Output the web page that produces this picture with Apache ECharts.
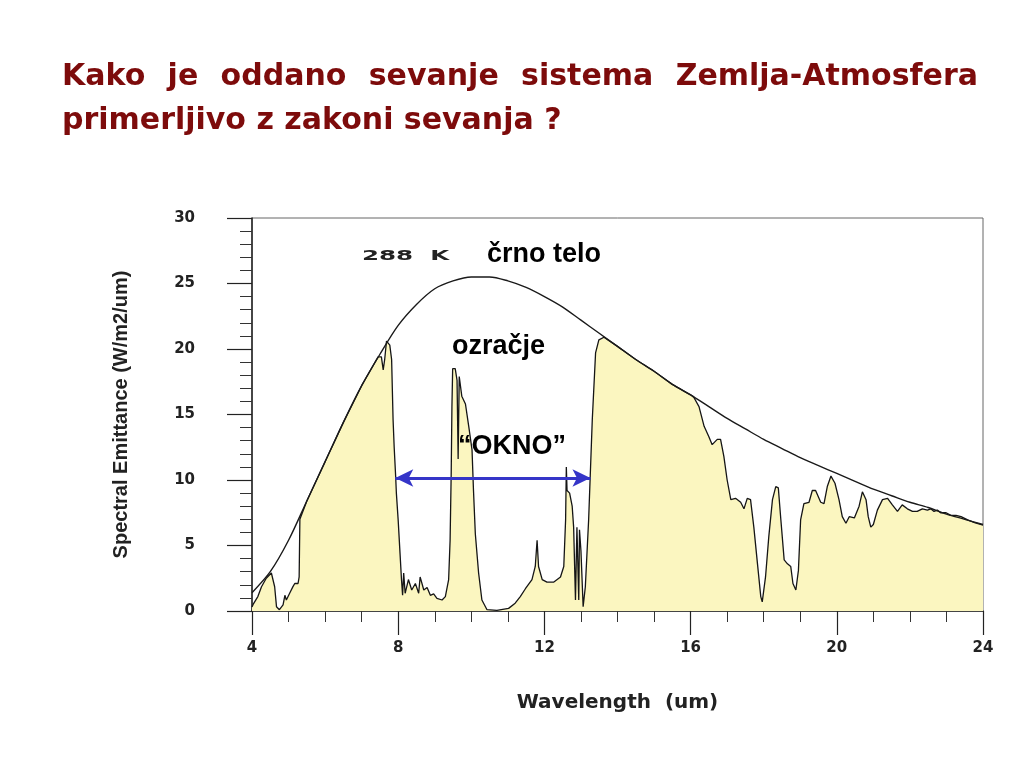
<!DOCTYPE html>
<html><head><meta charset="utf-8">
<script src="https://cdn.jsdelivr.net/npm/echarts@6/dist/echarts.min.js"></script>
<style>html,body{margin:0;padding:0;background:#fff}#c{width:1024px;height:768px}</style>
</head><body><div id="c"></div>
<script>
// ---- text content ----
const titleLine1 = ["Kako", "je", "oddano", "sevanje", "sistema", "Zemlja-Atmosfera"];
const titleLine2 = ["primerljivo", "z", "zakoni", "sevanja", "?"];
const yAxisTitle = "Spectral Emittance (W/m2/um)";
const xAxisTitle = "Wavelength  (um)";
const labelTemperature = "288  K";
const labelBlackbody = "črno telo";
const labelAtmosphere = "ozračje";
const labelWindow = "“OKNO”";

// ---- data: 288 K blackbody curve ----
const blackbodyWavelength = [4.0,4.5,5.0,5.5,6.0,6.5,7.0,7.5,8.0,8.5,9.0,9.5,10.0,10.5,11.0,11.5,12.0,12.5,13.0,13.5,14.0,14.5,15.0,15.5,16.0,16.5,17.0,17.5,18.0,18.5,19.0,19.5,20.0,20.5,21.0,21.5,22.0,22.5,23.0,23.5,24.0];
const blackbodyEmittance  = [1.4,3.0,5.4,8.4,11.4,14.4,17.2,19.6,21.8,23.4,24.6,25.2,25.5,25.5,25.2,24.7,24.0,23.2,22.2,21.2,20.2,19.2,18.3,17.3,16.5,15.6,14.7,13.9,13.1,12.4,11.7,11.1,10.5,9.9,9.3,8.8,8.3,7.9,7.4,7.0,6.6];

// ---- data: emitted radiation of Earth-atmosphere system ----
const radiationWavelength = [4.00,4.03,4.16,4.26,4.39,4.53,4.62,4.67,4.75,4.85,4.90,4.94,5.03,5.12,5.17,5.26,5.29,5.31,5.5,6.0,6.5,7.0,7.45,7.54,7.59,7.63,7.68,7.77,7.82,7.86,7.89,7.93,7.95,8.00,8.05,8.09,8.12,8.15,8.19,8.28,8.37,8.47,8.56,8.60,8.70,8.79,8.88,8.97,9.06,9.20,9.29,9.38,9.42,9.45,9.47,9.49,9.56,9.61,9.64,9.67,9.70,9.74,9.84,9.93,10.02,10.06,10.11,10.20,10.29,10.43,10.70,11.02,11.20,11.34,11.48,11.66,11.75,11.80,11.84,11.94,12.07,12.25,12.44,12.53,12.58,12.60,12.62,12.69,12.76,12.80,12.85,12.89,12.94,12.96,13.00,13.06,13.12,13.21,13.31,13.40,13.49,13.63,14.0,14.5,15.0,15.5,16.0,16.09,16.23,16.37,16.50,16.59,16.73,16.82,16.91,17.00,17.10,17.23,17.37,17.46,17.55,17.64,17.73,17.83,17.92,17.96,18.05,18.14,18.24,18.33,18.40,18.47,18.56,18.65,18.74,18.80,18.88,18.95,19.01,19.10,19.24,19.33,19.42,19.56,19.65,19.74,19.84,19.95,20.06,20.15,20.25,20.34,20.48,20.61,20.70,20.80,20.86,20.93,21.00,21.11,21.25,21.39,21.52,21.66,21.79,21.93,22.07,22.20,22.34,22.48,22.57,22.66,22.75,22.84,22.99,23.12,23.26,23.40,23.58,23.77,24.00];
const radiationEmittance  = [0.3,0.5,1.1,1.85,2.5,2.9,1.85,0.33,0.1,0.46,1.2,0.84,1.35,1.86,2.1,2.1,2.6,7.0,8.4,11.4,14.4,17.2,19.4,19.4,18.4,19.2,20.6,20.3,19.2,14.6,12.5,10.3,9.0,6.9,4.4,2.4,1.2,2.9,1.35,2.4,1.6,2.1,1.35,2.6,1.6,1.8,1.2,1.3,0.97,0.84,1.1,2.4,5.4,10.5,15.6,18.5,18.5,17.6,11.6,17.9,17.9,16.4,15.8,14.1,12.3,9.2,5.9,2.9,0.84,0.1,0.05,0.2,0.6,1.1,1.7,2.4,3.4,5.4,3.4,2.4,2.2,2.2,2.6,3.4,6.95,11.0,9.2,9.0,8.0,6.4,0.84,6.4,0.84,6.2,4.6,0.33,1.85,6.95,14.6,19.7,20.7,20.9,20.2,19.2,18.3,17.3,16.5,16.3,15.6,14.1,13.3,12.7,13.1,13.1,11.8,10.0,8.5,8.6,8.3,7.8,8.6,8.5,6.4,3.6,1.1,0.7,2.6,5.7,8.5,9.5,9.4,6.95,3.9,3.6,3.4,2.1,1.6,3.1,6.95,8.2,8.3,9.2,9.2,8.3,8.2,9.5,10.3,9.75,8.5,7.2,6.7,7.2,7.1,8.0,9.1,8.5,7.2,6.4,6.6,7.7,8.5,8.6,8.1,7.6,8.1,7.8,7.6,7.6,7.8,7.7,7.8,7.6,7.7,7.5,7.5,7.3,7.3,7.2,6.95,6.75,6.55];

// ---- "window" arrow (wavelength from, wavelength to, emittance level) ----
const windowFrom = 7.92, windowTo = 13.26, windowLevel = 10.15;

const pair = (xs, ys) => xs.map((x, i) => [x, ys[i]]);

const chart = echarts.init(document.getElementById('c'), null, {renderer: 'canvas'});

// ---- justified title (line 1 spans the full text width, line 2 left aligned) ----
const titleFont = 'bold 30px "DejaVu Sans"';
const titleColor = '#7d0b0b';
const titleLeft = 62, titleRight = 978;
const mctx = document.createElement('canvas').getContext('2d');
mctx.font = titleFont;
const w1 = titleLine1.map(w => mctx.measureText(w).width);
const gap1 = (titleRight - titleLeft - w1.reduce((a, b) => a + b, 0)) / (titleLine1.length - 1);
const graphics = [];
let cx = titleLeft;
titleLine1.forEach((w, i) => {
  graphics.push({type: 'text', x: cx, y: 77, z: 100,
    style: {text: w, font: titleFont, fill: titleColor, textVerticalAlign: 'middle', textAlign: 'left'}});
  cx += w1[i] + gap1;
});
graphics.push({type: 'text', x: titleLeft, y: 121, z: 100,
  style: {text: titleLine2.join(' '), font: titleFont, fill: titleColor, textVerticalAlign: 'middle', textAlign: 'left'}});

graphics.push({type: 'text', x: 362, y: 256, scaleX: 1.75, z: 100,
  style: {text: labelTemperature, font: 'bold 14px "DejaVu Sans"', fill: '#222', textVerticalAlign: 'middle'}});
graphics.push({type: 'text', x: 487, y: 255, z: 100,
  style: {text: labelBlackbody, font: 'bold 27px "Liberation Sans"', fill: '#000', textVerticalAlign: 'middle'}});
graphics.push({type: 'text', x: 452, y: 347, z: 100,
  style: {text: labelAtmosphere, font: 'bold 27px "Liberation Sans"', fill: '#000', textVerticalAlign: 'middle'}});
graphics.push({type: 'text', x: 458, y: 447, z: 100,
  style: {text: labelWindow, font: 'bold 27px "Liberation Sans"', fill: '#000', textVerticalAlign: 'middle'}});

const axisFont = {fontFamily: 'DejaVu Sans', fontWeight: 'bold', fontSize: 15, color: '#222'};

chart.setOption({
  animation: false,
  backgroundColor: '#fff',
  grid: {left: 252, right: 41, top: 218, bottom: 157, show: true, borderColor: '#666', borderWidth: 1, backgroundColor: 'transparent'},
  xAxis: {
    type: 'value', min: 4, max: 24, interval: 4,
    name: xAxisTitle, nameLocation: 'middle', nameGap: 82,
    nameTextStyle: {fontFamily: 'DejaVu Sans', fontWeight: 'bold', fontSize: 20, color: '#222'},
    axisLine: {show: true, onZero: false, lineStyle: {color: '#222', width: 1.5}},
    axisTick: {show: true, inside: false, length: 24, lineStyle: {color: '#222', width: 1.2}},
    minorTick: {show: true, splitNumber: 4, length: 11, lineStyle: {color: '#333', width: 1}},
    axisLabel: Object.assign({margin: 30}, axisFont),
    splitLine: {show: false}
  },
  yAxis: {
    type: 'value', min: 0, max: 30, interval: 5,
    name: yAxisTitle, nameLocation: 'middle', nameGap: 121, nameRotate: 90,
    nameTextStyle: {fontFamily: 'Liberation Sans', fontWeight: 'bold', fontSize: 20, color: '#222'},
    axisLine: {show: true, onZero: false, lineStyle: {color: '#222', width: 1.5}},
    axisTick: {show: true, inside: false, length: 25, lineStyle: {color: '#222', width: 1.2}},
    minorTick: {show: true, splitNumber: 5, length: 12, lineStyle: {color: '#333', width: 1}},
    axisLabel: Object.assign({margin: 57}, axisFont),
    splitLine: {show: false}
  },
  series: [
    {
      name: 'ozračje', type: 'line', data: pair(radiationWavelength, radiationEmittance),
      showSymbol: false, symbol: 'none', silent: true,
      lineStyle: {color: '#151515', width: 1.3},
      areaStyle: {color: '#fbf6c0', opacity: 1, origin: 'start'},
      z: 2
    },
    {
      name: 'črno telo', type: 'line', data: pair(blackbodyWavelength, blackbodyEmittance),
      showSymbol: false, symbol: 'none', silent: true, smooth: 0.3,
      lineStyle: {color: '#1a1a1a', width: 1.4},
      z: 3,
      markLine: {
        silent: true, symbol: ['arrow', 'arrow'], symbolSize: [13, 18],
        label: {show: false},
        lineStyle: {color: '#3535c8', width: 3, type: 'solid'},
        data: [[{coord: [windowFrom, windowLevel]}, {coord: [windowTo, windowLevel]}]]
      }
    }
  ],
  graphic: graphics
});
</script>
</body></html>
